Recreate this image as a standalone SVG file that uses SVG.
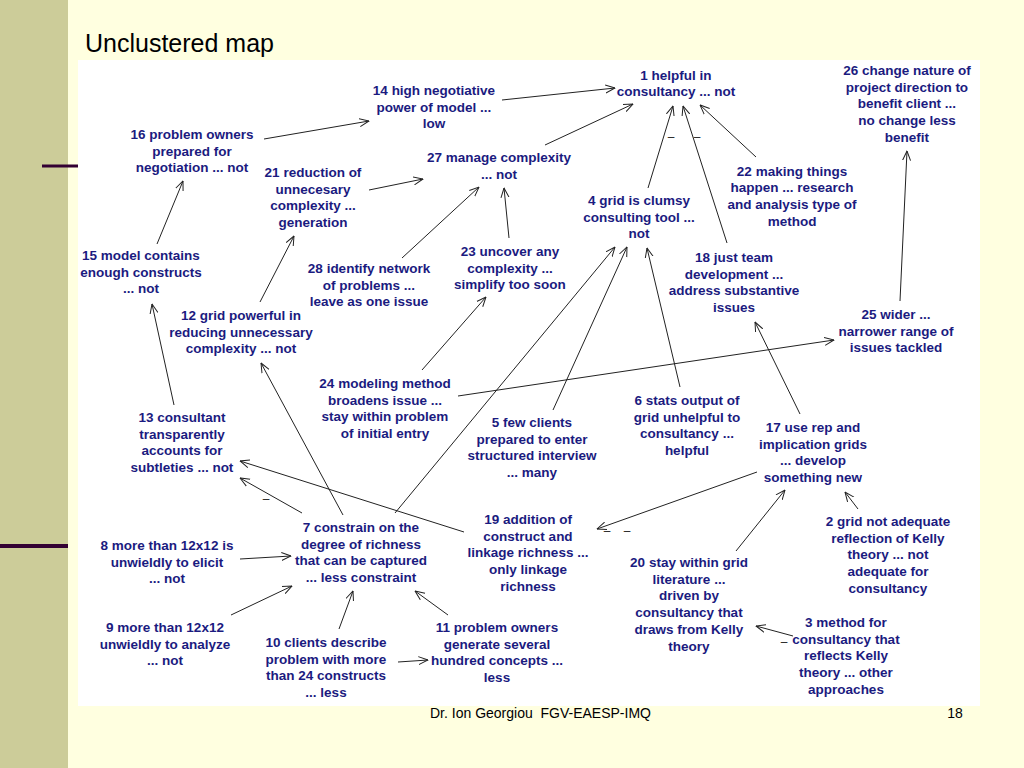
<svg xmlns="http://www.w3.org/2000/svg" width="1024" height="768" viewBox="0 0 1024 768">
<defs>
<style>
.n{font-family:"Liberation Sans",Arial,sans-serif;font-weight:bold;font-size:13.5px;fill:#1b1b80;text-anchor:middle}
.c line{stroke:#222;stroke-width:1;marker-end:url(#ah)}
.m{font-family:"Liberation Sans",Arial,sans-serif;font-size:12px;fill:#222;text-anchor:middle}
</style>
<marker id="ah" viewBox="0 0 10 10" refX="9.5" refY="5" markerWidth="10" markerHeight="10" markerUnits="userSpaceOnUse" orient="auto">
<path d="M0,1 L9.5,5 L0,9" fill="none" stroke="#222" stroke-width="1"/>
</marker>
</defs>
<rect x="0" y="0" width="1024" height="768" fill="#FFFFE0"/>
<rect x="0" y="0" width="68" height="768" fill="#CCCC99"/>
<line x1="42" y1="166" x2="78" y2="166" stroke="#330033" stroke-width="3"/>
<line x1="0" y1="546" x2="68" y2="546" stroke="#330033" stroke-width="4"/>
<text x="85" y="52" font-family="Liberation Sans,Arial,sans-serif" font-size="25" fill="#000">Unclustered map</text>
<rect x="78" y="60" width="902" height="646" fill="#FFFFFF"/>
<text x="430" y="718" font-family="Liberation Sans,Arial,sans-serif" font-size="14" fill="#000" xml:space="preserve">Dr. Ion Georgiou  FGV-EAESP-IMQ</text>
<text x="955" y="718" font-family="Liberation Sans,Arial,sans-serif" font-size="14" fill="#000" text-anchor="middle">18</text>

<g id="connectors" class="c">
<line x1="264" y1="139" x2="369" y2="121"/>
<line x1="502" y1="100" x2="615" y2="88"/>
<line x1="369" y1="190" x2="423" y2="179"/>
<line x1="545" y1="145" x2="633" y2="104"/>
<line x1="402" y1="258" x2="479" y2="187"/>
<line x1="509" y1="238" x2="504" y2="188"/>
<line x1="648" y1="188" x2="673" y2="106"/>
<line x1="727" y1="243" x2="683" y2="106"/>
<line x1="756" y1="157" x2="700" y2="105"/>
<line x1="900" y1="301" x2="907" y2="151"/>
<line x1="157" y1="244" x2="183" y2="181"/>
<line x1="260" y1="302" x2="294" y2="236"/>
<line x1="174" y1="405" x2="152" y2="304"/>
<line x1="343" y1="515" x2="261" y2="363"/>
<line x1="302" y1="513" x2="240" y2="478"/>
<line x1="464" y1="532" x2="240" y2="461"/>
<line x1="395" y1="513" x2="615" y2="247"/>
<line x1="553" y1="410" x2="627" y2="247"/>
<line x1="680" y1="387" x2="647" y2="248"/>
<line x1="422" y1="370" x2="486" y2="297"/>
<line x1="458" y1="396" x2="834" y2="340"/>
<line x1="800" y1="414" x2="755" y2="322"/>
<line x1="757" y1="472" x2="597" y2="529"/>
<line x1="736" y1="551" x2="785" y2="490"/>
<line x1="858" y1="509" x2="845" y2="492"/>
<line x1="793" y1="636" x2="756" y2="626"/>
<line x1="240" y1="559" x2="291" y2="556"/>
<line x1="231" y1="615" x2="292" y2="586"/>
<line x1="339" y1="629" x2="353" y2="591"/>
<line x1="448" y1="615" x2="415" y2="591"/>
<line x1="398" y1="662" x2="428" y2="660"/>
</g>
<g id="signs">
<text class="m" x="671" y="141">–</text>
<text class="m" x="697" y="141">–</text>
<text class="m" x="266" y="503">–</text>
<text class="m" x="607" y="535">–</text>
<text class="m" x="627" y="535">–</text>
<text class="m" x="784" y="646">–</text>
</g>

<g id="n1"><text class="n" x="676" y="79.5"><tspan x="676">1 helpful in</tspan><tspan x="676" dy="16.7">consultancy ... not</tspan></text></g>
<g id="n26"><text class="n" x="907" y="75"><tspan x="907">26 change nature of</tspan><tspan x="907" dy="16.7">project direction to</tspan><tspan x="907" dy="16.7">benefit client ...</tspan><tspan x="907" dy="16.7">no change less</tspan><tspan x="907" dy="16.7">benefit</tspan></text></g>
<g id="n14"><text class="n" x="434" y="95"><tspan x="434">14 high negotiative</tspan><tspan x="434" dy="16.7">power of model ...</tspan><tspan x="434" dy="16.7">low</tspan></text></g>
<g id="n16"><text class="n" x="192" y="139"><tspan x="192">16 problem owners</tspan><tspan x="192" dy="16.7">prepared for</tspan><tspan x="192" dy="16.7">negotiation ... not</tspan></text></g>
<g id="n21"><text class="n" x="313" y="177"><tspan x="313">21 reduction of</tspan><tspan x="313" dy="16.7">unnecesary</tspan><tspan x="313" dy="16.7">complexity ...</tspan><tspan x="313" dy="16.7">generation</tspan></text></g>
<g id="n27"><text class="n" x="499" y="162"><tspan x="499">27 manage complexity</tspan><tspan x="499" dy="16.7">... not</tspan></text></g>
<g id="n4"><text class="n" x="639" y="205"><tspan x="639">4 grid is clumsy</tspan><tspan x="639" dy="16.7">consulting tool ...</tspan><tspan x="639" dy="16.7">not</tspan></text></g>
<g id="n22"><text class="n" x="792" y="175.5"><tspan x="792">22 making things</tspan><tspan x="792" dy="16.7">happen ... research</tspan><tspan x="792" dy="16.7">and analysis type of</tspan><tspan x="792" dy="16.7">method</tspan></text></g>
<g id="n15"><text class="n" x="141" y="260"><tspan x="141">15 model contains</tspan><tspan x="141" dy="16.7">enough constructs</tspan><tspan x="141" dy="16.7">... not</tspan></text></g>
<g id="n12"><text class="n" x="241" y="320"><tspan x="241">12 grid powerful in</tspan><tspan x="241" dy="16.7">reducing unnecessary</tspan><tspan x="241" dy="16.7">complexity ... not</tspan></text></g>
<g id="n28"><text class="n" x="369" y="273"><tspan x="369">28 identify network</tspan><tspan x="369" dy="16.7">of problems ...</tspan><tspan x="369" dy="16.7">leave as one issue</tspan></text></g>
<g id="n23"><text class="n" x="510" y="256"><tspan x="510">23 uncover any</tspan><tspan x="510" dy="16.7">complexity ...</tspan><tspan x="510" dy="16.7">simplify too soon</tspan></text></g>
<g id="n18"><text class="n" x="734" y="262"><tspan x="734">18 just team</tspan><tspan x="734" dy="16.7">development ...</tspan><tspan x="734" dy="16.7">address substantive</tspan><tspan x="734" dy="16.7">issues</tspan></text></g>
<g id="n25"><text class="n" x="896" y="319"><tspan x="896">25 wider ...</tspan><tspan x="896" dy="16.7">narrower range of</tspan><tspan x="896" dy="16.7">issues tackled</tspan></text></g>
<g id="n24"><text class="n" x="385" y="388"><tspan x="385">24 modeling method</tspan><tspan x="385" dy="16.7">broadens issue ...</tspan><tspan x="385" dy="16.7">stay within problem</tspan><tspan x="385" dy="16.7">of initial entry</tspan></text></g>
<g id="n13"><text class="n" x="182" y="422"><tspan x="182">13 consultant</tspan><tspan x="182" dy="16.7">transparently</tspan><tspan x="182" dy="16.7">accounts for</tspan><tspan x="182" dy="16.7">subtleties ... not</tspan></text></g>
<g id="n5"><text class="n" x="532" y="427"><tspan x="532">5 few clients</tspan><tspan x="532" dy="16.7">prepared to enter</tspan><tspan x="532" dy="16.7">structured interview</tspan><tspan x="532" dy="16.7">... many</tspan></text></g>
<g id="n6"><text class="n" x="687" y="405"><tspan x="687">6 stats output of</tspan><tspan x="687" dy="16.7">grid unhelpful to</tspan><tspan x="687" dy="16.7">consultancy ...</tspan><tspan x="687" dy="16.7">helpful</tspan></text></g>
<g id="n17"><text class="n" x="813" y="432"><tspan x="813">17 use rep and</tspan><tspan x="813" dy="16.7">implication grids</tspan><tspan x="813" dy="16.7">... develop</tspan><tspan x="813" dy="16.7">something new</tspan></text></g>
<g id="n7"><text class="n" x="361" y="532"><tspan x="361">7 constrain on the</tspan><tspan x="361" dy="16.7">degree of richness</tspan><tspan x="361" dy="16.7">that can be captured</tspan><tspan x="361" dy="16.7">... less constraint</tspan></text></g>
<g id="n19"><text class="n" x="528" y="524"><tspan x="528">19 addition of</tspan><tspan x="528" dy="16.7">construct and</tspan><tspan x="528" dy="16.7">linkage richness ...</tspan><tspan x="528" dy="16.7">only linkage</tspan><tspan x="528" dy="16.7">richness</tspan></text></g>
<g id="n8"><text class="n" x="167" y="550"><tspan x="167">8 more than 12x12 is</tspan><tspan x="167" dy="16.7">unwieldly to elicit</tspan><tspan x="167" dy="16.7">... not</tspan></text></g>
<g id="n9"><text class="n" x="165" y="632"><tspan x="165">9 more than 12x12</tspan><tspan x="165" dy="16.7">unwieldly to analyze</tspan><tspan x="165" dy="16.7">... not</tspan></text></g>
<g id="n10"><text class="n" x="326" y="647"><tspan x="326">10 clients describe</tspan><tspan x="326" dy="16.7">problem with more</tspan><tspan x="326" dy="16.7">than 24 constructs</tspan><tspan x="326" dy="16.7">... less</tspan></text></g>
<g id="n11"><text class="n" x="497" y="632"><tspan x="497">11 problem owners</tspan><tspan x="497" dy="16.7">generate several</tspan><tspan x="497" dy="16.7">hundred concepts ...</tspan><tspan x="497" dy="16.7">less</tspan></text></g>
<g id="n20"><text class="n" x="689" y="567"><tspan x="689">20 stay within grid</tspan><tspan x="689" dy="16.7">literature ...</tspan><tspan x="689" dy="16.7">driven by</tspan><tspan x="689" dy="16.7">consultancy that</tspan><tspan x="689" dy="16.7">draws from Kelly</tspan><tspan x="689" dy="16.7">theory</tspan></text></g>
<g id="n2"><text class="n" x="888" y="526"><tspan x="888">2 grid not adequate</tspan><tspan x="888" dy="16.7">reflection of Kelly</tspan><tspan x="888" dy="16.7">theory ... not</tspan><tspan x="888" dy="16.7">adequate for</tspan><tspan x="888" dy="16.7">consultancy</tspan></text></g>
<g id="n3"><text class="n" x="846" y="627"><tspan x="846">3 method for</tspan><tspan x="846" dy="16.7">consultancy that</tspan><tspan x="846" dy="16.7">reflects Kelly</tspan><tspan x="846" dy="16.7">theory ... other</tspan><tspan x="846" dy="16.7">approaches</tspan></text></g>
</svg>
